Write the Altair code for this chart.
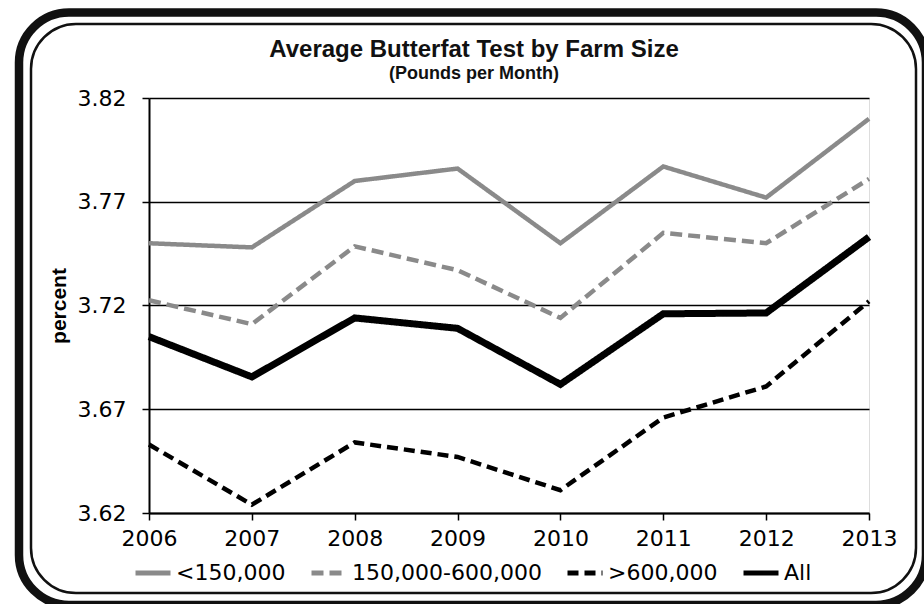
import altair as alt
import pandas as pd

years = [2006, 2007, 2008, 2009, 2010, 2011, 2012, 2013]
series_names = ["<150,000", "150,000-600,000", ">600,000", "All"]
small = [3.750, 3.748, 3.780, 3.786, 3.750, 3.787, 3.772, 3.810]
medium = [3.7225, 3.711, 3.7485, 3.737, 3.714, 3.755, 3.750, 3.781]
large = [3.653, 3.624, 3.654, 3.647, 3.631, 3.666, 3.681, 3.722]
all_farms = [3.705, 3.6856, 3.714, 3.709, 3.682, 3.716, 3.7164, 3.753]
y_ticks = [3.62, 3.67, 3.72, 3.77, 3.82]

rows = []
for name, vals in zip(series_names, [small, medium, large, all_farms]):
    for yr, v in zip(years, vals):
        rows.append({"year": yr, "value": v, "series": name})
df = pd.DataFrame(rows)

W, H = 720, 415
PAD_L, PAD_T = 149, 98

FONT = "DejaVu Sans"
TFONT = "Liberation Sans"

legend_cfg = dict(title=None, orient="none", direction="horizontal",
                  legendX=-16, legendY=455,
                  labelFont=FONT, labelFontSize=22, labelColor="#000", labelLimit=400,
                  symbolType="stroke", symbolSize=1225, symbolStrokeWidth=5,
                  labelOffset=3, columnPadding=15)

x_enc = alt.X("year:O", scale=alt.Scale(type="point", padding=0),
              axis=alt.Axis(title=None, labelAngle=0, labelFont=FONT, labelFontSize=22,
                            labelColor="#000", labelPadding=8, tickSize=7, tickWidth=1.5,
                            tickColor="#000", domainColor="#000", domainWidth=2,
                            grid=False))
y_enc = alt.Y("value:Q", scale=alt.Scale(domain=[3.62, 3.82], nice=False, zero=False),
              axis=alt.Axis(title="percent", values=y_ticks, format=".2f",
                            labelFont=FONT, labelFontSize=22, labelColor="#000",
                            labelPadding=16, tickSize=7, tickWidth=1.5, tickColor="#000",
                            domainColor="#000", domainWidth=2,
                            grid=True, gridColor="#000", gridWidth=1.5, gridOpacity=1,
                            titleFont=TFONT, titleFontSize=21, titleFontWeight="bold",
                            titleColor="#000", titleX=-90, titleY=H / 2,
                            titleAlign="center", titleBaseline="middle", titleAngle=270))
color_enc = alt.Color("series:N", sort=series_names,
                      scale=alt.Scale(domain=series_names,
                                      range=["#8a8a8a", "#8a8a8a", "#000000", "#000000"]),
                      legend=alt.Legend(**legend_cfg))
dash_enc = alt.StrokeDash("series:N", sort=series_names,
                          scale=alt.Scale(domain=series_names,
                                          range=[[1, 0], [12, 6], [11, 6], [1, 0]]),
                          legend=alt.Legend(**legend_cfg))

base = alt.Chart(df).encode(x=x_enc, y=y_enc, color=color_enc, strokeDash=dash_enc,
                            order=alt.Order("year:O"))
thin_lines = base.transform_filter(alt.datum.series != "All").mark_line(
    strokeWidth=4.5, strokeJoin="miter")
all_line = base.transform_filter(alt.datum.series == "All").mark_line(
    strokeWidth=7, strokeJoin="miter")

frame_data = alt.Data(values=[{"k": 1}])
outer = alt.Chart(frame_data).mark_rect(
    fill="transparent", stroke="#111", strokeWidth=8.5, cornerRadius=50
).encode(
    x=alt.value(19 - PAD_L), x2=alt.value(926 - PAD_L),
    y=alt.value(12.5 - PAD_T), y2=alt.value(605 - PAD_T),
)
inner = alt.Chart(frame_data).mark_rect(
    fill="transparent", stroke="#111", strokeWidth=2.5, cornerRadius=45
).encode(
    x=alt.value(31 - PAD_L), x2=alt.value(916 - PAD_L),
    y=alt.value(24 - PAD_T), y2=alt.value(593 - PAD_T),
)

chart = alt.layer(outer, inner, thin_lines, all_line).properties(
    width=W, height=H,
    autosize=alt.AutoSizeParams(type="none"),
    padding={"left": PAD_L, "top": PAD_T, "right": 924 - PAD_L - W, "bottom": 604 - PAD_T - H},
    title=alt.TitleParams(
        text="Average Butterfat Test by Farm Size",
        subtitle="(Pounds per Month)",
        font=TFONT, fontSize=24, fontWeight="bold", color="#111",
        subtitleFont=TFONT, subtitleFontSize=18, subtitleFontWeight="bold",
        subtitleColor="#111", subtitlePadding=3,
        anchor="middle", frame="group", dx=-35, dy=89, offset=14,
    ),
).configure_view(strokeOpacity=0).configure(background="white")

chart.save("out.html", embed_options={"renderer": "svg", "actions": False})
